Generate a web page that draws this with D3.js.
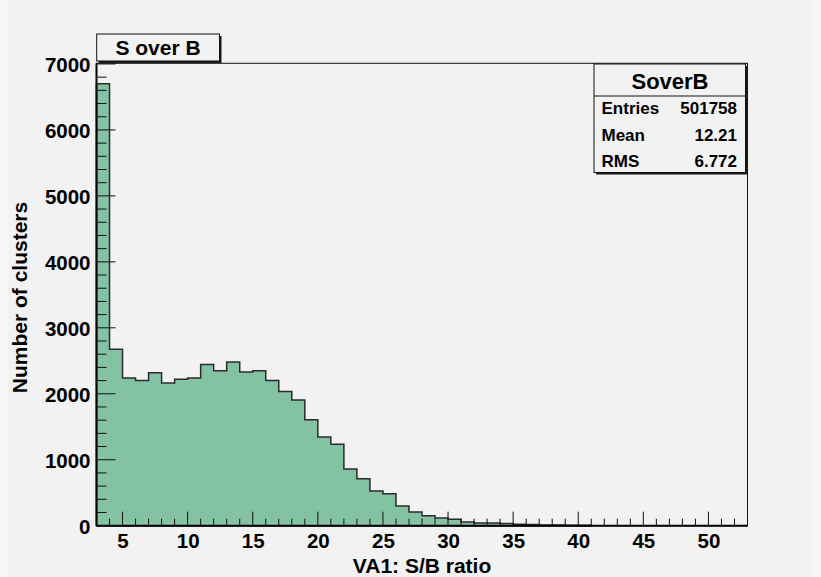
<!DOCTYPE html>
<html>
<head>
<meta charset="utf-8">
<script src="https://cdn.jsdelivr.net/npm/d3@7/dist/d3.min.js"></script>
<style>
  html, body { margin: 0; padding: 0; background: #f6f6f6; }
  svg { display: block; }
  text { font-family: "Liberation Sans", Arial, Helvetica, sans-serif; font-weight: bold; fill: #000; }
</style>
</head>
<body>
<svg id="chart" width="821" height="577"></svg>
<script>
// Histogram of S/B ratio: unit-width bins starting at 3
const binLow = [3,4,5,6,7,8,9,10,11,12,13,14,15,16,17,18,19,20,21,22,23,24,25,26,27,28,29,30,31,32,33,34,35,36,37,38,39,40];
const binCounts = [6700,2675,2240,2200,2320,2165,2220,2240,2445,2350,2480,2330,2350,2200,2035,1905,1605,1345,1235,860,710,525,485,300,208,152,117,97,56,42,40,35,22,18,12,10,8,6];
const binWidth = 1;

const xTicks = [5,10,15,20,25,30,35,40,45,50];
const yTicks = [0,1000,2000,3000,4000,5000,6000,7000];

const histTitle = "S over B";
const statsName = "SoverB";
const statsLabels = ["Entries", "Mean", "RMS"];
const statsValues = ["501758", "12.21", "6.772"];
const xTitle = "VA1: S/B ratio";
const yTitle = "Number of clusters";

const svg = d3.select("#chart");
const W = 821, H = 577;

// pad background
svg.append("rect").attr("x", 8).attr("y", 0).attr("width", 805).attr("height", H).attr("fill", "#f2f2f2");

const frame = { left: 96.5, right: 747.5, top: 63.3, bottom: 525.7 };
const x = d3.scaleLinear().domain([3, 53]).range([frame.left, frame.right]);
const y = d3.scaleLinear().domain([0, 7010]).range([frame.bottom, frame.top]);

// frame box
svg.append("rect")
  .attr("x", frame.left).attr("y", frame.top)
  .attr("width", frame.right - frame.left).attr("height", frame.bottom - frame.top)
  .attr("fill", "none").attr("stroke", "#111").attr("stroke-width", 1);

// histogram outline as a step path
const pts = [[binLow[0], 0]];
binLow.forEach((lo, i) => {
  pts.push([lo, binCounts[i]]);
  pts.push([lo + binWidth, binCounts[i]]);
});
pts.push([binLow[binLow.length - 1] + binWidth, 0]);
const line = d3.line().x(d => x(d[0])).y(d => y(d[1]));
svg.append("path")
  .attr("d", line(pts) + "Z")
  .attr("fill", "#84c2a4")
  .attr("stroke", "#2b2b2b")
  .attr("stroke-width", 1.5)
  .attr("stroke-linejoin", "miter");

// x axis: major ticks every 5, minor every 1, drawn upward inside the frame
const xAxis = d3.axisBottom(x).tickValues(xTicks).tickFormat(d3.format("d")).tickSize(0).tickPadding(0);
const gx = svg.append("g").attr("transform", `translate(0,${frame.bottom})`).call(xAxis);
gx.select(".domain").remove();
gx.selectAll("text").attr("dy", null).attr("y", 22).style("font-size", "20.5px").style("font-family", null);
const xMinor = d3.range(3, 53.001, 1);
svg.append("g").selectAll("line").data(xMinor).join("line")
  .attr("x1", d => x(d)).attr("x2", d => x(d))
  .attr("y1", frame.bottom).attr("y2", d => frame.bottom - (d % 5 === 0 ? 14 : 7))
  .attr("stroke", "#111").attr("stroke-width", 1);
svg.append("line")
  .attr("x1", frame.left).attr("x2", frame.right)
  .attr("y1", frame.bottom).attr("y2", frame.bottom)
  .attr("stroke", "#000").attr("stroke-width", 2);

// y axis: major ticks every 1000, minor every 200
const yAxis = d3.axisLeft(y).tickValues(yTicks).tickFormat(d3.format("d")).tickSize(0).tickPadding(6);
const gy = svg.append("g").attr("transform", `translate(${frame.left},0)`).call(yAxis);
gy.select(".domain").remove();
gy.selectAll("text").attr("x", -6).attr("dy", "0.36em").style("font-size", "20.5px").style("font-family", null);
const yMinor = d3.range(0, 7001, 200);
svg.append("g").selectAll("line").data(yMinor).join("line")
  .attr("x1", frame.left).attr("x2", d => frame.left + (d % 1000 === 0 ? 19 : 10))
  .attr("y1", d => y(d)).attr("y2", d => y(d))
  .attr("stroke", "#111").attr("stroke-width", 1);
svg.append("line")
  .attr("x1", frame.left).attr("x2", frame.left)
  .attr("y1", frame.top).attr("y2", frame.bottom)
  .attr("stroke", "#000").attr("stroke-width", 2);

// axis titles
svg.append("text")
  .attr("x", (frame.left + frame.right) / 2).attr("y", 572.5)
  .attr("text-anchor", "middle").style("font-size", "21px")
  .text(xTitle);
svg.append("text")
  .attr("transform", `translate(26.5,${(frame.top + frame.bottom) / 2 + 3}) rotate(-90)`)
  .attr("text-anchor", "middle").style("font-size", "21px")
  .text(yTitle);

// box with drop shadow on right and bottom
function shadowBox(x0, y0, x1, y1) {
  svg.append("rect").attr("x", x0 + 2).attr("y", y0 + 2).attr("width", x1 - x0).attr("height", y1 - y0).attr("fill", "#1a1a1a");
  svg.append("rect").attr("x", x0).attr("y", y0).attr("width", x1 - x0).attr("height", y1 - y0)
    .attr("fill", "#f2f2f2").attr("stroke", "#111").attr("stroke-width", 1);
}

// histogram title
shadowBox(96.7, 34, 219.5, 61);
svg.append("text").attr("x", 158).attr("y", 55).attr("text-anchor", "middle")
  .style("font-size", "21px").text(histTitle);

// statistics box
shadowBox(594, 64, 745.5, 172.5);
svg.append("line").attr("x1", 594).attr("x2", 745.5).attr("y1", 96).attr("y2", 96)
  .attr("stroke", "#111").attr("stroke-width", 1);
svg.append("text").attr("x", 670).attr("y", 88.5).attr("text-anchor", "middle")
  .style("font-size", "22px").text(statsName);
const rowY = [113.5, 141, 166.5];
statsLabels.forEach((lab, i) => {
  svg.append("text").attr("x", 601.5).attr("y", rowY[i]).style("font-size", "17px").text(lab);
  svg.append("text").attr("x", 737).attr("y", rowY[i]).attr("text-anchor", "end").style("font-size", "17px").text(statsValues[i]);
});
</script>
</body>
</html>
